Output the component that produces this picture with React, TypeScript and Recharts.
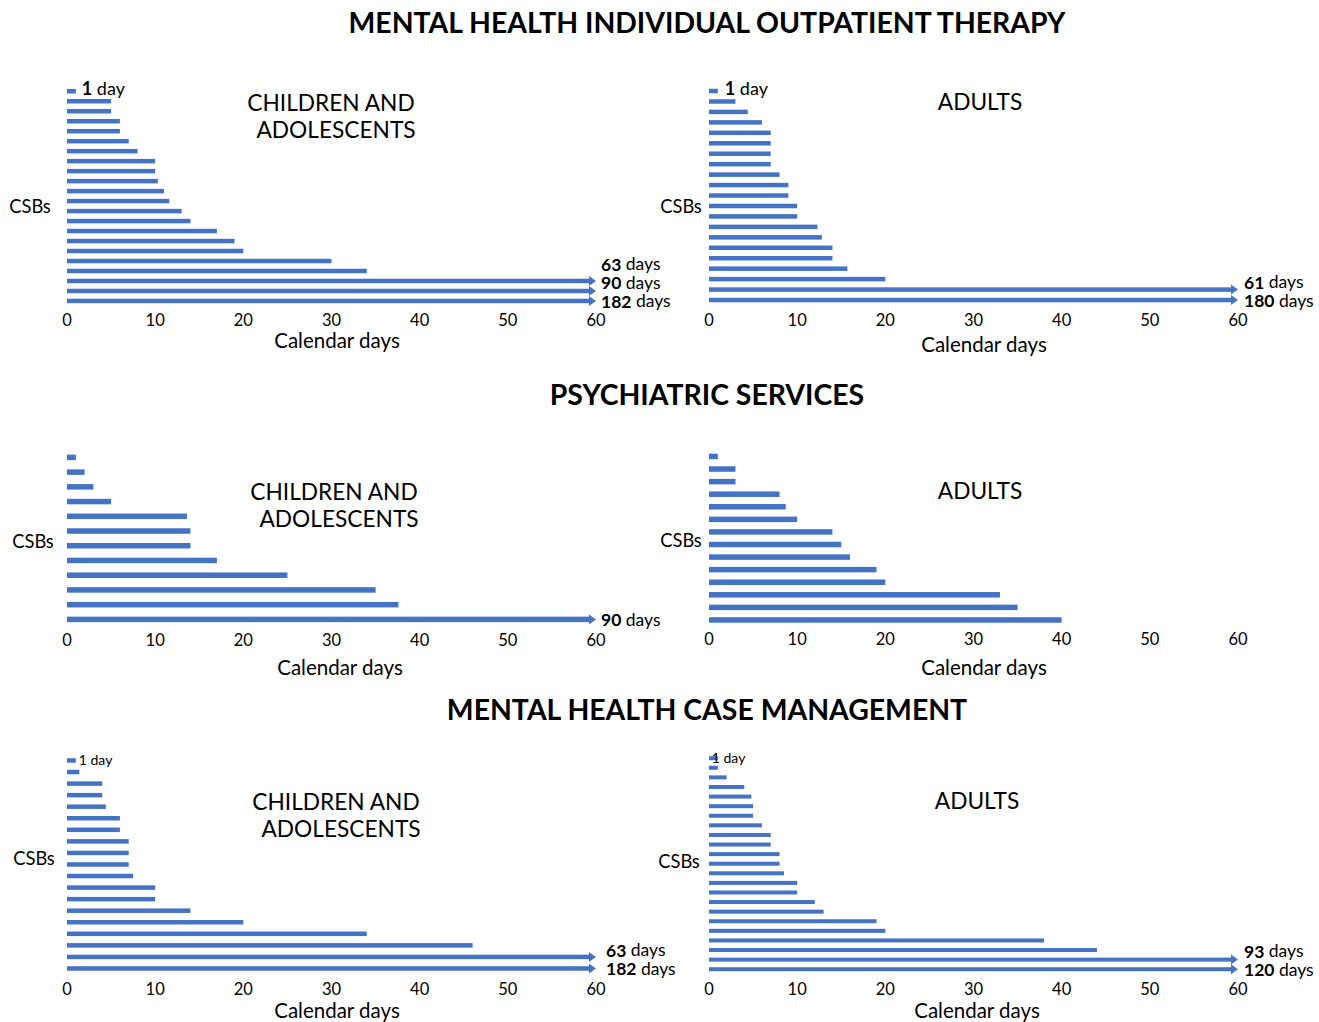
import { Bar, BarChart, LabelList, XAxis, YAxis } from "recharts";

// days from referral to first service, one bar per CSB (values above 60 are drawn as arrows)
const mhotChildren = [1, 5, 5, 6, 6, 7, 8, 10, 10, 10.3, 11, 11.6, 13, 14, 17, 19, 20, 30, 34, 63, 90, 182];
const mhotAdults = [1, 3, 4.4, 6, 7, 7, 7, 7, 8, 9, 9, 10, 10, 12.3, 12.8, 14, 14, 15.7, 20, 61, 180];
const psychChildren = [1, 2, 3, 5, 13.6, 14, 14, 17, 25, 35, 37.6, 90];
const psychAdults = [1, 3, 3, 8, 8.7, 10, 14, 15, 16, 19, 20, 33, 35, 40];
const cmChildren = [1, 1.4, 4, 4, 4.4, 6, 6, 7, 7, 7, 7.5, 10, 10, 14, 20, 34, 46, 63, 182];
const cmAdults = [1, 1, 2, 4, 4.8, 5, 5, 6, 7, 7, 8, 8, 8.5, 10, 10, 12, 13, 19, 20, 38, 44, 93, 120];

const dayTicks = [0, 10, 20, 30, 40, 50, 60];
const CAP = 60;

const sectionTitles = [
  "MENTAL HEALTH INDIVIDUAL OUTPATIENT THERAPY",
  "PSYCHIATRIC SERVICES",
  "MENTAL HEALTH CASE MANAGEMENT",
];

const BLUE = "#4472C4";
const FONT = "Lato, 'Open Sans', sans-serif";

type FirstLabel = { dx: number; dy: number; size: number; bold: boolean };

type Panel = {
  values: number[];
  left: number;
  axisTop: number;
  axisBottom: number;
  firstY: number;
  lastY: number;
  barSize: number;
  first: FirstLabel | null;
  labelDx: number;
  sub: string[];
  subX: number[];
  subY: number;
  xLabel: [number, number];
  yLabel: [number, number];
};

const panels: Panel[] = [
  {
    values: mhotChildren, left: 67, axisTop: 83, axisBottom: 308, firstY: 91, lastY: 300.7, barSize: 4.5,
    first: { dx: 6, dy: -3, size: 18, bold: true }, labelDx: 5,
    sub: ["CHILDREN AND", "ADOLESCENTS"], subX: [331, 336], subY: 102, xLabel: [337, 340], yLabel: [30, 206],
  },
  {
    values: mhotAdults, left: 709, axisTop: 83, axisBottom: 308, firstY: 91, lastY: 300, barSize: 4.5,
    first: { dx: 7, dy: -3, size: 18, bold: true }, labelDx: 6,
    sub: ["ADULTS"], subX: [980], subY: 101, xLabel: [984, 344], yLabel: [681, 206],
  },
  {
    values: psychChildren, left: 67, axisTop: 437, axisBottom: 628, firstY: 457, lastY: 619, barSize: 5.5,
    first: null, labelDx: 5,
    sub: ["CHILDREN AND", "ADOLESCENTS"], subX: [334, 339], subY: 491, xLabel: [340, 667], yLabel: [33, 541],
  },
  {
    values: psychAdults, left: 709, axisTop: 437, axisBottom: 627, firstY: 456, lastY: 619.5, barSize: 5.5,
    first: null, labelDx: 5,
    sub: ["ADULTS"], subX: [980], subY: 490, xLabel: [984, 667], yLabel: [681, 540],
  },
  {
    values: cmChildren, left: 67, axisTop: 745, axisBottom: 977, firstY: 760, lastY: 968, barSize: 4.5,
    first: { dx: 3, dy: -1, size: 14, bold: false }, labelDx: 10,
    sub: ["CHILDREN AND", "ADOLESCENTS"], subX: [336, 341], subY: 801, xLabel: [337, 1010], yLabel: [34, 858],
  },
  {
    values: cmAdults, left: 709, axisTop: 745, axisBottom: 977, firstY: 758, lastY: 969, barSize: 4,
    first: { dx: -6, dy: -1, size: 14, bold: false }, labelDx: 6,
    sub: ["ADULTS"], subX: [977], subY: 800, xLabel: [977, 1010], yLabel: [679, 861],
  },
];

const PLOT_W = 529;
const M_LEFT = 10;
const M_TOP = 10;
const M_RIGHT = 95;
const X_AXIS_H = 30;
const LABEL_STEP = 18.5;

function ArrowBar(props: any) {
  const { x, y, width, height, payload } = props;
  if (payload && payload.actual > CAP) {
    const head = 7;
    const half = 5;
    const cy = y + height / 2;
    return (
      <g>
        <rect x={x} y={y} width={width - head + 1} height={height} fill={BLUE} />
        <polygon
          points={`${x + width - head},${cy - half} ${x + width},${cy} ${x + width - head},${cy + half}`}
          fill={BLUE}
        />
      </g>
    );
  }
  return <rect x={x} y={y} width={width} height={height} fill={BLUE} />;
}

function PanelChart({ panel }: { panel: Panel }) {
  const n = panel.values.length;
  const band = (panel.lastY - panel.firstY) / (n - 1);
  const padTop = panel.firstY - band / 2 - panel.axisTop;
  const padBottom = panel.axisBottom - (panel.lastY + band / 2);
  const plotH = panel.axisBottom - panel.axisTop;

  const rows = panel.values.map((v, i) => ({
    csb: `CSB ${i + 1}`,
    days: Math.min(v, CAP),
    actual: v,
    capsBelow: panel.values.slice(i + 1).filter((w) => w > CAP).length,
  }));

  const renderLabel = (props: any) => {
    const box = props.viewBox ?? props;
    const { x, y, width, height } = box;
    const index = props.index;
    const row = rows[index];
    if (!row) return null;
    const cy = y + height / 2;
    if (row.actual > CAP) {
      const r = row.capsBelow;
      const ly = cy + r * band - r * LABEL_STEP;
      return (
        <text x={x + width + panel.labelDx} y={ly} dominantBaseline="central" fontSize={17.5} fill="#000">
          <tspan fontWeight={700}>{row.actual}</tspan> days
        </text>
      );
    }
    if (index === 0 && panel.first) {
      const f = panel.first;
      return (
        <text x={x + width + f.dx} y={cy + f.dy} dominantBaseline="central" fontSize={f.size} fill="#000">
          <tspan fontWeight={f.bold ? 700 : 400}>{row.actual}</tspan> day
        </text>
      );
    }
    return null;
  };

  return (
    <div
      style={{
        position: "absolute",
        left: panel.left - M_LEFT,
        top: panel.axisTop - M_TOP,
      }}
    >
      <BarChart
        width={M_LEFT + PLOT_W + M_RIGHT}
        height={M_TOP + plotH + X_AXIS_H}
        data={rows}
        layout="vertical"
        margin={{ top: M_TOP, right: M_RIGHT, left: M_LEFT, bottom: 0 }}
      >
        <XAxis
          type="number"
          domain={[0, CAP]}
          ticks={dayTicks}
          height={X_AXIS_H}
          axisLine={false}
          tickLine={false}
          tickMargin={0}
          tick={{ fill: "#000", fontSize: 16.5 }}
        />
        <YAxis
          type="category"
          dataKey="csb"
          width={0}
          tick={false}
          tickLine={false}
          axisLine={{ stroke: "#000", strokeWidth: 1.5 }}
          padding={{ top: padTop, bottom: padBottom }}
        />
        <Bar dataKey="days" barSize={panel.barSize} fill={BLUE} shape={ArrowBar} isAnimationActive={false}>
          <LabelList dataKey="actual" content={renderLabel} />
        </Bar>
      </BarChart>
    </div>
  );
}

export default function App() {
  const titleY = [22, 394, 709];
  return (
    <div
      style={{
        position: "absolute",
        left: 0,
        top: 0,
        width: 1319,
        height: 1022,
        background: "#fff",
        fontFamily: FONT,
        color: "#000",
      }}
    >
      {panels.map((p, i) => (
        <PanelChart key={i} panel={p} />
      ))}
      <svg
        width={1319}
        height={1022}
        style={{ position: "absolute", left: 0, top: 0, pointerEvents: "none" }}
        fontFamily={FONT}
      >
        {sectionTitles.map((t, i) => (
          <text key={t} x={707} y={titleY[i]} textAnchor="middle" dominantBaseline="central" fontSize={28.4} fontWeight={700}>
            {t}
          </text>
        ))}
        {panels.map((p, i) => (
          <g key={i}>
            {p.sub.map((s, j) => (
              <text key={s} x={p.subX[j]} y={p.subY + j * 27} textAnchor="middle" dominantBaseline="central" fontSize={22.7}>
                {s}
              </text>
            ))}
            <text x={p.xLabel[0]} y={p.xLabel[1]} textAnchor="middle" dominantBaseline="central" fontSize={20.5}>
              Calendar days
            </text>
            <text x={p.yLabel[0]} y={p.yLabel[1]} textAnchor="middle" dominantBaseline="central" fontSize={18.3}>
              CSBs
            </text>
          </g>
        ))}
      </svg>
    </div>
  );
}
